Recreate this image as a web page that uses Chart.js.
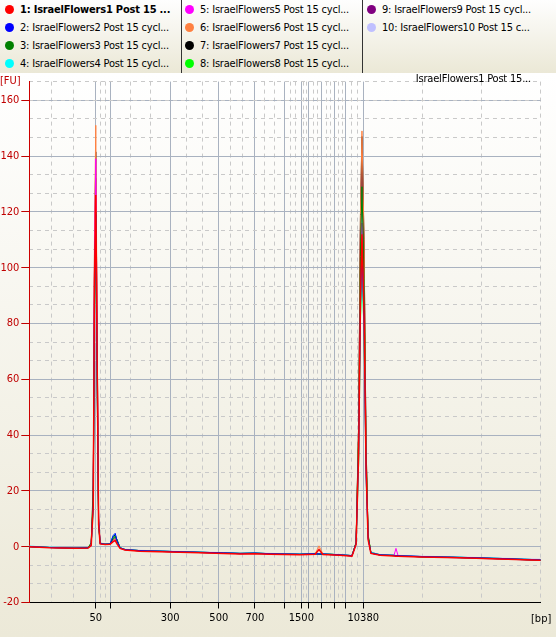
<!DOCTYPE html>
<html>
<head>
<meta charset="utf-8">
<script src="https://cdn.jsdelivr.net/npm/chart.js@4.4.1/dist/chart.umd.min.js"></script>
<style>
  body { margin: 0; background: #ece9d8; width: 556px; height: 637px; overflow: hidden;
         font-family: "DejaVu Sans Condensed", "Liberation Sans", sans-serif; font-size: 11px; }
  #legend { position: relative; height: 73px; background: linear-gradient(#fefefe, #ebe8d6); }
  #legend .sep { position: absolute; top: 0; width: 1px; height: 73px; background: #333; }
  #legend .item { position: absolute; height: 18px; line-height: 18px; white-space: nowrap; color: #000;
                  letter-spacing: -0.2px; }
  #legend .dot { position: absolute; left: -15px; top: 4px; width: 9px; height: 9px; border-radius: 50%; }
  #wrap { position: relative; width: 556px; height: 564px; background: linear-gradient(#ffffff, #ece9d8); }
</style>
</head>
<body>
<div id="legend"></div>
<div id="wrap"><canvas id="myChart" width="556" height="564"></canvas></div>
<script>
Chart.defaults.font.size = 11;
Chart.defaults.font.family = '"DejaVu Sans Condensed", "Liberation Sans", sans-serif';
Chart.defaults.color = "#000000";

// migration time (s) of each sample point, shared by all runs
const times = [20.0, 24.0, 28.9, 31.5, 32.1, 32.5, 32.75, 33.0, 33.25, 33.55,
               33.85, 34.8, 35.8, 36.4, 36.8, 37.15, 37.75, 38.7, 41.6, 47.5,
               53.4, 58.0, 61.2, 64.0, 67.1, 72.9, 75.9, 76.65, 77.4, 80.75,
               83.1, 83.9, 84.4, 84.75, 85.05, 85.45, 85.85, 86.25, 86.8, 88.6,
               91.3, 91.7, 92.1, 96.4, 104.2, 112.0, 120.0];

// ladder positions (s) and their bp labels
const ladderTimes = [33.0, 35.85, 47.55, 57.05, 64.1, 69.95, 73.2, 74.65, 77.2, 79.75, 81.85, 85.3];
const ladderLabels = ["50", "", "300", "500", "700", "", "1500", "", "", "", "", "10380"];
const yTicks = [-20, 0, 20, 40, 60, 80, 100, 120, 140, 160];

const seriesNames = [
    "1: IsraelFlowers1 Post 15 ...",
    "2: IsraelFlowers2 Post 15 cycl...",
    "3: IsraelFlowers3 Post 15 cycl...",
    "4: IsraelFlowers4 Post 15 cycl...",
    "5: IsraelFlowers5 Post 15 cycl...",
    "6: IsraelFlowers6 Post 15 cycl...",
    "7: IsraelFlowers7 Post 15 cycl...",
    "8: IsraelFlowers8 Post 15 cycl...",
    "9: IsraelFlowers9 Post 15 cycl...",
    "10: IsraelFlowers10 Post 15 c...",
];
const colors = ["#ff0000", "#0000ff", "#008000", "#00ffff", "#ff00ff",
                "#ff8040", "#000000", "#00ff00", "#800080", "#c0c0ff"];

const fu1 = [0.0, -0.4, -0.6, -0.5, 0.4, 14, 95, 126, 70, 8,
             1.0, 0.8, 0.9, 1.8, 2.2, 1.0, -0.6, -1.2, -1.6, -1.9,
             -2.2, -2.4, -2.6, -2.5, -2.7, -2.9, -2.7, -1.0, -2.8, -3.1,
             -3.4, 0.8, 33, 88, 112, 84, 28, 2.5, -2.4, -3.1,
             -3.3, -3.4, -3.4, -3.7, -4.0, -4.4, -4.9];
const fu2 = [0.1, -0.3, -0.5, -0.4, 0.6, 15, 90, 119, 64, 9,
             1.2, 0.9, 1.0, 4.0, 4.8, 2.2, -0.4, -1.0, -1.4, -1.7,
             -2.0, -2.2, -2.4, -2.3, -2.5, -2.7, -2.5, -2.6, -2.6, -2.9,
             -3.2, 1.2, 34, 86, 108, 80, 26, 3.2, -2.2, -2.9,
             -3.1, -3.2, -3.2, -3.5, -3.8, -4.2, -4.7];
const fu3 = [0.0, -0.3, -0.5, -0.4, 1.5, 22, 83, 120, 66, 8,
             1.1, 0.9, 1.0, 3.0, 3.8, 2.0, -0.5, -1.1, -1.5, -1.8,
             -2.1, -2.3, -2.5, -2.4, -2.6, -2.8, -2.6, -2.7, -2.7, -3.0,
             -3.3, 1.6, 40, 104, 129, 96, 34, 4.5, -2.3, -3.0,
             -3.2, -3.3, -3.3, -3.6, -3.9, -4.3, -4.8];
const fu4 = [0.2, -0.2, -0.4, -0.3, 0.6, 13, 82, 110, 60, 8,
             1.3, 1.0, 1.1, 3.9, 4.5, 2.1, -0.3, -1.0, -1.4, -1.7,
             -2.0, -2.2, -2.4, -2.3, -2.5, -2.7, -2.5, -2.6, -2.6, -2.9,
             -3.2, 1.1, 31, 83, 104, 76, 25, 2.9, -2.0, -2.9,
             -3.1, -3.2, -3.2, -3.5, -3.8, -4.2, -4.7];
const fu5 = [0.0, -0.3, -0.5, -0.4, 0.8, 18, 104, 139, 78, 10,
             1.1, 0.9, 1.0, 2.0, 2.5, 1.3, -0.5, -1.1, -1.5, -1.8,
             -2.1, -2.3, -2.5, -2.4, -2.6, -2.8, -2.6, -2.7, -2.7, -3.0,
             -3.3, 0.9, 36, 93, 116, 88, 29, 3.0, -2.3, -3.0,
             -3.2, -0.6, -3.2, -3.5, -3.9, -4.3, -4.8];
const fu6 = [0.1, -0.3, -0.5, -0.4, 0.9, 20, 113, 151, 84, 11,
             1.3, 1.0, 1.0, 2.3, 2.8, 1.5, -0.4, -1.0, -1.4, -1.8,
             -2.1, -2.3, -2.5, -2.4, -2.6, -2.8, -2.6, 0.3, -2.6, -2.9,
             -3.2, 1.4, 45, 119, 149, 112, 37, 3.8, -2.1, -2.9,
             -3.1, -3.2, -3.2, -3.5, -3.9, -4.3, -4.8];
const fu7 = [0.0, -0.3, -0.5, -0.4, 0.7, 17, 106, 141.5, 79, 10,
             1.2, 0.9, 1.0, 3.6, 4.2, 2.4, -0.4, -1.0, -1.4, -1.7,
             -2.0, -2.2, -2.4, -2.3, -2.5, -2.7, -2.5, -2.6, -2.6, -2.9,
             -3.2, 1.3, 44, 118, 147, 110, 37, 3.6, -2.2, -2.9,
             -3.1, -3.2, -3.2, -3.6, -3.9, -4.3, -4.9];
const fu8 = [0.1, -0.3, -0.4, -0.3, 0.6, 14, 86, 115, 62, 8,
             1.2, 0.9, 1.0, 2.8, 3.5, 2.6, -0.3, -1.0, -1.4, -1.7,
             -2.0, -2.2, -2.4, -2.3, -2.5, -2.7, -2.4, -2.5, -2.5, -2.9,
             -3.2, 0.9, 30, 80, 100, 77, 30, 4.0, -2.0, -2.9,
             -3.1, -3.2, -3.2, -3.5, -3.8, -4.2, -4.7];
const fu9 = [0.0, -0.3, -0.5, -0.4, 0.6, 16, 99, 132, 73, 9,
             1.1, 0.9, 1.0, 2.5, 3.0, 1.6, -0.5, -1.1, -1.5, -1.8,
             -2.1, -2.3, -2.5, -2.4, -2.6, -2.8, -2.6, -2.7, -2.7, -3.0,
             -3.3, 1.2, 42, 113, 141.6, 106, 35, 3.4, -2.3, -3.0,
             -3.2, -3.3, -3.3, -3.6, -4.0, -4.4, -4.9];
const fu10 = [0.2, -0.2, -0.4, -0.3, 0.7, 15, 92, 122, 67, 9,
              1.3, 1.0, 1.1, 3.0, 3.6, 1.8, -0.3, -0.9, -1.3, -1.6,
              -1.9, -2.1, -2.3, -2.2, -2.4, -2.6, -2.4, -2.5, -2.5, -2.8,
              -3.1, 1.1, 36, 96, 120, 90, 30, 3.1, -2.0, -2.8,
              -3.0, -3.1, -3.1, -3.4, -3.7, -4.1, -4.5];
const allRuns = [fu1, fu2, fu3, fu4, fu5, fu6, fu7, fu8, fu9, fu10];

const X_MIN = 20, X_MAX = 120, Y_MIN = -20, Y_MAX = 166.67;

// dashed grid: thirds between the solid grid lines
function thirds(marks, lo, hi) {
    const edges = [lo, ...marks, hi];
    const out = [];
    for (let i = 0; i < edges.length - 1; i++) {
        const d = (edges[i + 1] - edges[i]) / 3;
        out.push(edges[i] + d, edges[i] + 2 * d);
    }
    out.push(hi);
    return out;
}
const minorX = thirds(ladderTimes, X_MIN, X_MAX);
const minorY = thirds(yTicks.slice(1), Y_MIN, 160).concat([Y_MAX]);

const data = {
    datasets: allRuns.map((run, k) => ({
        label: seriesNames[k],
        data: run.map((v, i) => ({ x: times[i], y: v })),
        borderColor: colors[k],
        backgroundColor: colors[k],
        borderWidth: k === 0 ? 1.5 : 1,
        pointRadius: 0,
        tension: 0,
    })),
};

const textPlugin = {
    id: "texts",
    afterDraw(chart) {
        const c = chart.ctx;
        c.save();
        c.font = '11px "DejaVu Sans Condensed", "Liberation Sans", sans-serif';
        c.fillStyle = "#c00000";
        c.textAlign = "left";
        c.fillText("[FU]", 0, 11);
        c.fillStyle = "#000000";
        c.fillText("[bp]", 531, 549);
        c.textAlign = "right";
        c.letterSpacing = "-0.2px";
        c.fillText("IsraelFlowers1 Post 15...", 531, 9);
        c.restore();
    },
};

const config = {
    type: "line",
    data: data,
    options: {
        responsive: false,
        animation: false,
        layout: { padding: { left: 0, right: 15.3, top: 7, bottom: 0 } },
        plugins: { legend: { display: false }, tooltip: { enabled: false } },
        scales: {
            x: {
                type: "linear", position: "bottom", min: X_MIN, max: X_MAX,
                afterBuildTicks: s => { s.ticks = ladderTimes.map(v => ({ value: v })); },
                afterFit: s => { s.height = 34.5; },
                ticks: { autoSkip: false, maxRotation: 0, padding: 3, color: "#000",
                         callback: (v, i) => ladderLabels[i] },
                grid: { color: "#a9b2c0", tickColor: "#000", tickLength: 6 },
                border: { color: "#000" },
            },
            xMinor: {
                type: "linear", position: "bottom", min: X_MIN, max: X_MAX,
                afterBuildTicks: s => { s.ticks = minorX.map(v => ({ value: v })); },
                afterFit: s => { s.height = 0; },
                ticks: { display: false },
                grid: { color: "#c9c9c9", drawTicks: false },
                border: { display: false, dash: [4, 4] },
            },
            y: {
                type: "linear", position: "left", min: Y_MIN, max: Y_MAX,
                afterBuildTicks: s => { s.ticks = yTicks.map(v => ({ value: v })); },
                afterFit: s => { s.width = 29.3; },
                ticks: { color: "#c00000", padding: 2 },
                grid: { color: ctx => (ctx.tick && ctx.tick.value === -20 ? "rgba(0,0,0,0)" : "#a9b2c0"),
                        tickColor: "#c00000", tickLength: 8 },
                border: { color: "#cc0000" },
            },
            yMinor: {
                type: "linear", position: "left", min: Y_MIN, max: Y_MAX,
                afterBuildTicks: s => { s.ticks = minorY.map(v => ({ value: v })); },
                afterFit: s => { s.width = 0; },
                ticks: { display: false },
                grid: { color: "#c9c9c9", drawTicks: false },
                border: { display: false, dash: [4, 4] },
            },
        },
    },
    plugins: [textPlugin],
};

const ctx = document.getElementById("myChart").getContext("2d");
const myChart = new Chart(ctx, config);

// html legend, three columns of four
const legendEl = document.getElementById("legend");
const colX = [20, 200, 382];
[181, 362].forEach(x => {
    const s = document.createElement("div");
    s.className = "sep";
    s.style.left = x + "px";
    legendEl.appendChild(s);
});
myChart.data.datasets.forEach((ds, k) => {
    const item = document.createElement("div");
    item.className = "item";
    item.style.left = colX[Math.floor(k / 4)] + "px";
    item.style.top = (1 + (k % 4) * 18) + "px";
    if (k === 0) item.style.fontWeight = "bold";
    const dot = document.createElement("span");
    dot.className = "dot";
    dot.style.background = ds.borderColor;
    item.appendChild(dot);
    item.appendChild(document.createTextNode(ds.label));
    legendEl.appendChild(item);
});
</script>
</body>
</html>
